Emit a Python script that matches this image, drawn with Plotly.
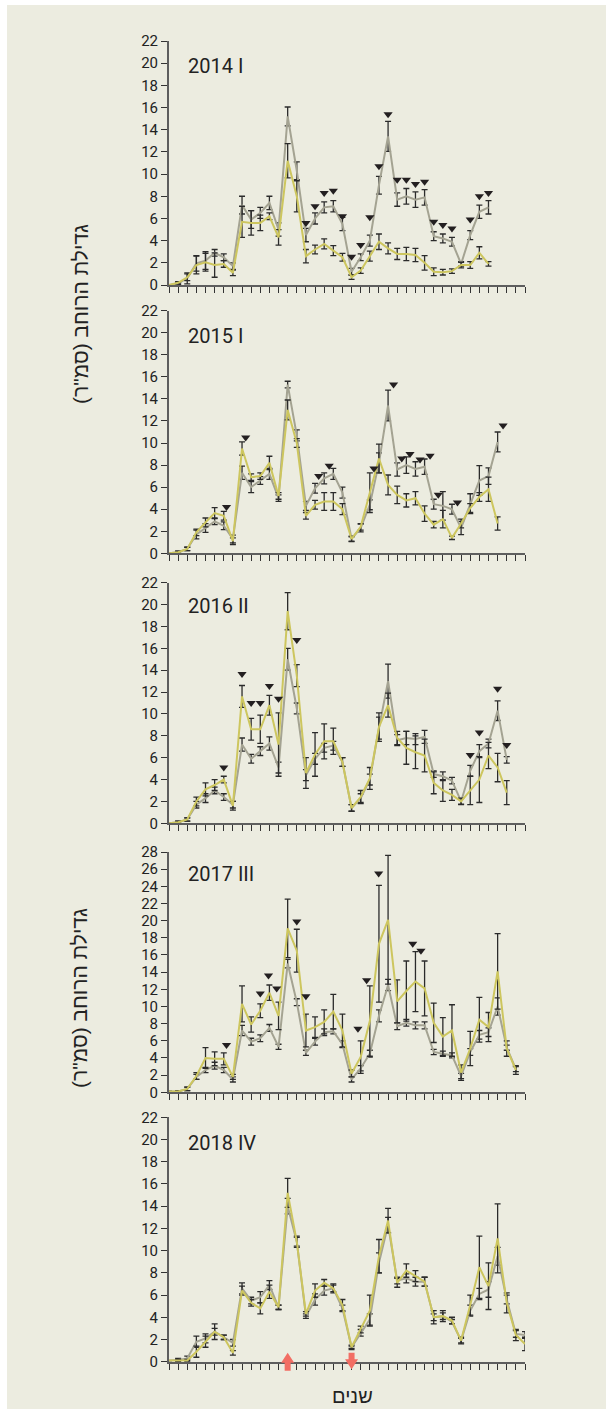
import plotly.graph_objects as go

# ---------------------------------------------------------------
# Data: width growth per sampling date (index 0..39), two series
# per season, symmetric error half-widths and significance marks.
# ---------------------------------------------------------------
GRAY_2014 = [0, 0.15, 0.6, 1.95, 2.2, 2.9, 2.5, 1.7, 7.2, 5.9, 6.5, 7.4, 5.0, 15.2, 10.3, 4.5, 6.0, 7.0,
             7.1, 5.5, 1.2, 2.5, 4.0, 9.0, 13.4, 7.7, 8.0, 7.7, 7.9, 4.4, 4.2, 3.9, 1.9, 4.5, 6.6, 7.0]
YELLOW_2014 = [0, 0.2, 0.7, 1.8, 2.05, 1.8, 1.9, 1.1, 5.7, 5.6, 5.6, 6.2, 4.3, 11.2, 8.0, 2.6, 3.2, 3.7,
               3.1, 2.5, 0.7, 1.3, 2.6, 3.9, 3.3, 2.8, 2.8, 2.7, 2.0, 1.2, 1.15, 1.25, 1.8, 1.8, 2.9, 1.9]
GRAY_ERR_2014 = [0, 0.1, 0.5, 0.7, 0.8, 0.3, 0.3, 0.3, 0.8, 0.8, 0.5, 0.6, 0.6, 0.85, 0.8, 0.6, 0.5, 0.5,
                 0.5, 0.6, 0.3, 0.3, 0.5, 0.8, 1.35, 0.6, 0.7, 0.7, 0.7, 0.4, 0.4, 0.4, 0.2, 0.4, 0.6, 0.6]
YELLOW_ERR_2014 = [0, 0.1, 0.3, 0.8, 0.8, 1.1, 0.3, 0.25, 1.4, 1.1, 0.7, 0.3, 0.7, 1.55, 1.4, 0.6, 0.4, 0.45,
                   0.45, 0.35, 0.2, 0.25, 0.45, 0.7, 0.5, 0.5, 0.6, 0.6, 0.65, 0.35, 0.25, 0.2, 0.25, 0.3, 0.55, 0.2]
SIG_X_2014 = [15, 16, 17, 18, 19, 20, 21, 22, 23, 24, 25, 26, 27, 28, 29, 30, 31, 33, 34, 35]
SIG_Y_2014 = [5.6, 7.1, 8.3, 8.5, 6.2, 2.55, 3.6, 6.1, 10.7, 15.4, 9.5, 9.5, 9.1, 9.3, 5.7, 5.4, 5.1, 5.9, 8.0, 8.3]

GRAY_2015 = [0, 0.1, 0.4, 1.7, 2.3, 2.9, 2.5, 1.3, 7.3, 6.0, 6.6, 7.2, 5.0, 15.3, 10.7, 4.3, 5.9, 6.8, 7.2,
             5.5, 1.3, 2.3, 4.4, 8.2, 13.4, 7.6, 8.0, 7.65, 7.85, 4.45, 4.3, 4.0, 2.3, 4.5, 6.6, 7.0, 10.1]
YELLOW_2015 = [0, 0.1, 0.4, 1.9, 2.8, 3.65, 3.4, 1.1, 9.5, 6.9, 7.0, 8.2, 5.2, 13.0, 10.0, 3.4, 4.4, 4.7, 4.7,
               4.0, 1.3, 2.4, 5.5, 8.6, 6.2, 5.3, 4.8, 5.0, 3.6, 2.6, 3.1, 1.4, 2.7, 4.1, 5.1, 5.8, 2.7]
GRAY_ERR_2015 = [0, 0.1, 0.15, 0.4, 0.4, 0.3, 0.35, 0.35, 0.6, 0.5, 0.35, 0.5, 0.3, 0.3, 0.5, 0.4, 0.45, 0.5,
                 0.5, 0.5, 0.2, 0.35, 0.45, 0.9, 1.4, 0.6, 0.75, 0.65, 0.7, 0.45, 1.3, 0.45, 0.6, 0.9, 1.35, 0.75, 0.9]
YELLOW_ERR_2015 = [0, 0.1, 0.15, 0.3, 0.4, 0.5, 0.4, 0.3, 0.6, 0.3, 0.3, 0.6, 0.3, 0.9, 0.4, 0.3, 0.4, 0.8,
                   0.8, 0.5, 0.25, 0.3, 1.8, 1.3, 0.9, 0.8, 0.6, 0.6, 0.7, 0.3, 0.8, 0.15, 0.4, 0.4, 0.4, 1.1, 0.6]
SIG_X_2015 = [6.3, 8.4, 16.4, 17.55, 22.45, 24.6, 25.5, 26.4, 27.5, 28.6, 29.5, 31.6, 36.6]
SIG_Y_2015 = [4.2, 10.5, 7.0, 7.95, 7.7, 15.3, 8.6, 9.0, 8.5, 8.85, 5.3, 4.6, 11.6]

GRAY_2016 = [0, 0.1, 0.35, 1.7, 2.3, 3.0, 2.4, 1.7, 7.2, 5.9, 6.6, 7.3, 5.1, 15.0, 10.5, 4.4, 5.9, 6.9, 7.1,
             5.6, 1.4, 2.3, 4.0, 8.7, 13.0, 7.6, 7.8, 7.7, 7.9, 4.5, 4.3, 3.9, 2.0, 4.8, 6.6, 7.3, 10.3, 5.8]
YELLOW_2016 = [0, 0.1, 0.35, 2.0, 3.1, 3.5, 4.0, 1.6, 11.6, 8.6, 8.6, 10.8, 7.2, 19.4, 13.5, 4.6, 6.3, 7.5, 7.5,
               5.6, 1.4, 2.4, 4.1, 8.8, 10.8, 7.8, 6.9, 6.5, 6.2, 3.7, 3.0, 2.6, 2.0, 3.0, 4.0, 6.2, 5.1, 2.8]
GRAY_ERR_2016 = [0, 0.1, 0.15, 0.3, 0.4, 0.3, 0.3, 0.3, 0.6, 0.4, 0.4, 0.6, 0.5, 1.0, 0.5, 0.5, 0.5, 0.4, 0.4,
                 0.4, 0.3, 0.4, 0.5, 1.0, 1.55, 0.5, 0.6, 0.5, 0.6, 0.3, 0.4, 0.3, 0.25, 0.5, 0.6, 0.4, 0.9, 0.3]
YELLOW_ERR_2016 = [0, 0.1, 0.15, 0.4, 0.6, 0.5, 0.3, 0.4, 1.0, 1.0, 1.3, 0.9, 2.9, 1.7, 1.0, 1.4, 2.0, 1.6, 1.2,
                   0.4, 0.3, 0.6, 1.0, 1.3, 1.1, 0.6, 1.5, 1.5, 1.5, 1.0, 1.0, 0.5, 0.3, 1.3, 2.1, 1.2, 1.3, 1.1]
SIG_X_2016 = [6, 8, 9, 10, 11, 12, 13, 14, 33, 34, 36, 37]
SIG_Y_2016 = [5.1, 13.65, 11.0, 11.0, 12.55, 11.4, 22.5, 16.75, 6.25, 8.3, 12.3, 7.15]

GRAY_2017 = [0.1, 0.1, 0.4, 1.8, 2.6, 3.1, 2.6, 1.5, 7.2, 5.9, 6.3, 7.5, 5.3, 15.0, 10.5, 4.6, 5.9, 7.0, 7.1,
             5.6, 1.5, 2.8, 4.5, 8.9, 12.5, 7.7, 8.1, 7.8, 7.8, 4.7, 4.5, 4.3, 1.9, 4.7, 6.7, 7.0, 10.0, 5.2, 2.7]
YELLOW_2017 = [0.1, 0.1, 0.4, 1.9, 4.0, 3.9, 3.9, 1.8, 10.3, 7.9, 9.5, 11.6, 8.9, 19.1, 16.5, 7.2, 7.6, 8.2, 9.4,
               7.2, 2.2, 4.1, 8.3, 17.3, 20.1, 10.6, 11.8, 12.9, 12.1, 8.1, 6.5, 7.2, 2.3, 5.1, 8.45, 7.6, 14.1, 5.1, 2.6]
GRAY_ERR_2017 = [0, 0.1, 0.2, 0.3, 0.3, 0.4, 0.3, 0.3, 0.6, 0.4, 0.4, 0.4, 0.3, 0.5, 0.4, 0.3, 0.4, 0.4, 0.3,
                 0.4, 0.3, 0.3, 0.4, 0.7, 0.65, 0.4, 0.4, 0.4, 0.4, 0.3, 0.3, 0.3, 0.3, 0.4, 0.5, 0.5, 1.0, 0.3, 0.3]
YELLOW_ERR_2017 = [0, 0.1, 0.2, 0.4, 1.2, 0.8, 0.7, 0.3, 2.1, 0.9, 0.8, 0.9, 1.6, 3.4, 2.5, 1.9, 1.2, 1.4, 2.0,
                   1.9, 0.4, 1.9, 4.1, 6.8, 7.5, 2.5, 3.5, 3.5, 3.2, 2.3, 2.2, 3.0, 0.9, 2.0, 2.6, 1.7, 4.4, 0.9, 0.5]
SIG_X_2017 = [6.3, 10.0, 10.9, 11.8, 14.0, 15.0, 20.7, 21.65, 22.97, 26.7, 27.6]
SIG_Y_2017 = [5.5, 11.5, 13.6, 12.1, 19.9, 11.2, 7.4, 13.05, 25.5, 17.3, 16.5]

GRAY_2018 = [0.1, 0.15, 0.3, 1.8, 2.1, 2.7, 2.2, 1.7, 6.6, 5.5, 5.8, 6.9, 4.9, 14.0, 10.8, 4.1, 5.6, 6.4, 6.6, 4.8,
             1.3, 2.6, 3.8, 8.9, 12.3, 7.3, 7.5, 7.2, 7.2, 4.0, 4.1, 3.6, 1.9, 4.6, 6.1, 6.5, 9.5, 5.6, 2.5, 2.4]
YELLOW_2018 = [0.1, 0.1, 0.1, 0.9, 1.8, 2.7, 2.2, 0.8, 6.4, 5.3, 4.8, 6.3, 4.9, 15.2, 10.8, 4.3, 6.4, 7.1, 6.6, 5.1,
               1.3, 2.9, 4.6, 9.5, 12.7, 7.1, 8.2, 7.7, 7.2, 4.0, 4.1, 3.7, 1.9, 5.1, 8.5, 6.8, 11.1, 5.3, 2.4, 1.6]
GRAY_ERR_2018 = [0, 0.15, 0.2, 0.5, 0.4, 0.3, 0.2, 0.3, 0.5, 0.3, 0.5, 0.4, 0.2, 0.7, 0.4, 0.2, 0.5, 0.4, 0.4, 0.3,
                 0.2, 0.3, 0.5, 0.9, 0.7, 0.3, 0.4, 0.4, 0.4, 0.3, 0.3, 0.2, 0.2, 0.5, 0.5, 0.7, 0.8, 0.4, 0.3, 0.3]
YELLOW_ERR_2018 = [0, 0.1, 0.1, 0.5, 0.5, 0.7, 0.2, 0.2, 0.4, 0.3, 0.5, 0.6, 0.2, 1.3, 0.5, 0.2, 0.6, 0.3, 0.3, 0.5,
                   0.1, 0.3, 1.4, 1.5, 1.1, 0.4, 0.6, 0.5, 0.4, 0.6, 0.5, 0.3, 0.3, 0.9, 2.8, 2.1, 3.1, 0.9, 0.5, 0.6]
SIG_X_2018 = []
SIG_Y_2018 = []

PANEL_TITLES = ["2014 I", "2015 I", "2016 II", "2017 III", "2018 IV"]
Y_MAX = [22, 22, 22, 28, 22]
N_TICKS = 40                     # sampling dates on the shared time axis
ARROW_UP_AT = 13                 # marker positions under the last panel
ARROW_DOWN_AT = 20

Y_TITLE = 'גדילת הרוחב (סמ"ר)'
X_TITLE = "שנים"

# ---------------------------------------------------------------
# Styling / layout (pixel geometry of the 606 x 1414 canvas)
# ---------------------------------------------------------------
W, H = 606, 1414
BG = "#ecece0"
GRAY_C = "#a4a392"
YELLOW_C = "#cdc65e"
ERR_C = "#2b2b2b"
AXIS_C = "#5e5e5e"
TEXT_C = "#222222"
ARROW_C = "#f26e64"
NUM_FONT = "Roboto, DejaVu Sans, sans-serif"
HEB_FONT = "Liberation Sans, DejaVu Sans, sans-serif"

X_LEFT_PX, X_RIGHT_PX = 169, 525
# (top-of-range pixel, zero pixel) for each panel
PANEL_PX = [(41, 285), (310.7, 553.3), (582.7, 823.3), (852, 1092.3), (1117.3, 1361.7)]
TITLE_DY = [25, 25, 23, 22, 26]

panels = [
    (GRAY_2014, YELLOW_2014, GRAY_ERR_2014, YELLOW_ERR_2014, SIG_X_2014, SIG_Y_2014),
    (GRAY_2015, YELLOW_2015, GRAY_ERR_2015, YELLOW_ERR_2015, SIG_X_2015, SIG_Y_2015),
    (GRAY_2016, YELLOW_2016, GRAY_ERR_2016, YELLOW_ERR_2016, SIG_X_2016, SIG_Y_2016),
    (GRAY_2017, YELLOW_2017, GRAY_ERR_2017, YELLOW_ERR_2017, SIG_X_2017, SIG_Y_2017),
    (GRAY_2018, YELLOW_2018, GRAY_ERR_2018, YELLOW_ERR_2018, SIG_X_2018, SIG_Y_2018),
]


def fx(px):
    return px / W


def fy(py):
    return 1 - py / H


fig = go.Figure()
layout = dict(
    width=W, height=H, autosize=False,
    margin=dict(l=0, r=0, t=0, b=0, pad=0, autoexpand=False),
    paper_bgcolor="white",
    plot_bgcolor="rgba(0,0,0,0)",
    showlegend=False,
    shapes=[],
    annotations=[],
)

# beige card behind everything
layout["shapes"].append(dict(
    type="rect", xref="paper", yref="paper",
    x0=fx(7), x1=1.0, y0=fy(1409), y1=fy(5),
    fillcolor=BG, line=dict(width=0), layer="below"))

for k, (gray, yellow, gerr, yerr, sx, sy) in enumerate(panels):
    n = k + 1
    xa = "x" if n == 1 else f"x{n}"
    ya = "y" if n == 1 else f"y{n}"
    top_px, zero_px = PANEL_PX[k]

    layout[f"xaxis{'' if n == 1 else n}"] = dict(
        domain=[fx(X_LEFT_PX), fx(X_RIGHT_PX)],
        anchor=ya, range=[0, N_TICKS - 1],
        showgrid=False, zeroline=False, automargin=False,
        showline=True, linecolor=AXIS_C, linewidth=2,
        ticks="outside", ticklen=6, tickwidth=1.4, tickcolor="#333333",
        tickmode="linear", tick0=0, dtick=1,
        showticklabels=False, fixedrange=True,
    )
    layout[f"yaxis{'' if n == 1 else n}"] = dict(
        domain=[fy(zero_px), fy(top_px)],
        anchor=xa, range=[0, Y_MAX[k]],
        showgrid=False, zeroline=False, automargin=False,
        showline=True, linecolor=AXIS_C, linewidth=2,
        ticks="outside", ticklen=6, tickwidth=1.4, tickcolor="#333333",
        tickmode="linear", tick0=0, dtick=2,
        tickfont=dict(family=NUM_FONT, size=15, color=TEXT_C),
        fixedrange=True,
    )

    for vals, errs, color in ((gray, gerr, GRAY_C), (yellow, yerr, YELLOW_C)):
        fig.add_trace(go.Scatter(
            x=list(range(len(vals))), y=vals, xaxis=xa, yaxis=ya,
            mode="lines", line=dict(color=color, width=2),
            error_y=dict(type="data", array=errs, visible=True,
                         color=ERR_C, thickness=1.3, width=3),
            cliponaxis=False, hoverinfo="skip"))

    if sx:
        fig.add_trace(go.Scatter(
            x=sx, y=sy, xaxis=xa, yaxis=ya, mode="markers",
            marker=dict(symbol="triangle-down", size=8, color="#231f20"),
            cliponaxis=False, hoverinfo="skip"))

    layout["annotations"].append(dict(
        text=PANEL_TITLES[k], xref="paper", yref="paper",
        x=fx(186), y=fy(top_px + TITLE_DY[k]),
        xanchor="left", yanchor="middle", showarrow=False,
        font=dict(family=NUM_FONT, size=20, color=TEXT_C)))

# rotated axis titles
for cy in (314, 998):
    layout["annotations"].append(dict(
        text=Y_TITLE, xref="paper", yref="paper",
        x=fx(80), y=fy(cy), xanchor="center", yanchor="middle",
        textangle=-90, showarrow=False,
        font=dict(family=HEB_FONT, size=21, color=TEXT_C)))

layout["annotations"].append(dict(
    text=X_TITLE, xref="paper", yref="paper",
    x=fx(352), y=fy(1396), xanchor="center", yanchor="middle",
    showarrow=False, font=dict(family=HEB_FONT, size=20, color=TEXT_C)))

# red up / down arrows on the last time axis (pixel-sized paths anchored
# to the sampling index along the axis, not clipped to the plot area)
up_path = "M 0 9 L 6.5 -1 L 3 -1 L 3 -9 L -3 -9 L -3 -1 L -6.5 -1 Z"
down_path = "M -3 9 L 3 9 L 3 2.5 L 6.5 2.5 L 0 -7.5 L -6.5 2.5 L -3 2.5 Z"
for at, path in ((ARROW_UP_AT, up_path), (ARROW_DOWN_AT, down_path)):
    layout["shapes"].append(dict(
        type="path", xref="x5 domain", yref="y5 domain",
        xsizemode="pixel", xanchor=at / (N_TICKS - 1),
        ysizemode="pixel", yanchor=0,
        path=path, fillcolor=ARROW_C, line=dict(width=0), layer="above"))

fig.update_layout(**layout)
fig.write_html("out.html")
